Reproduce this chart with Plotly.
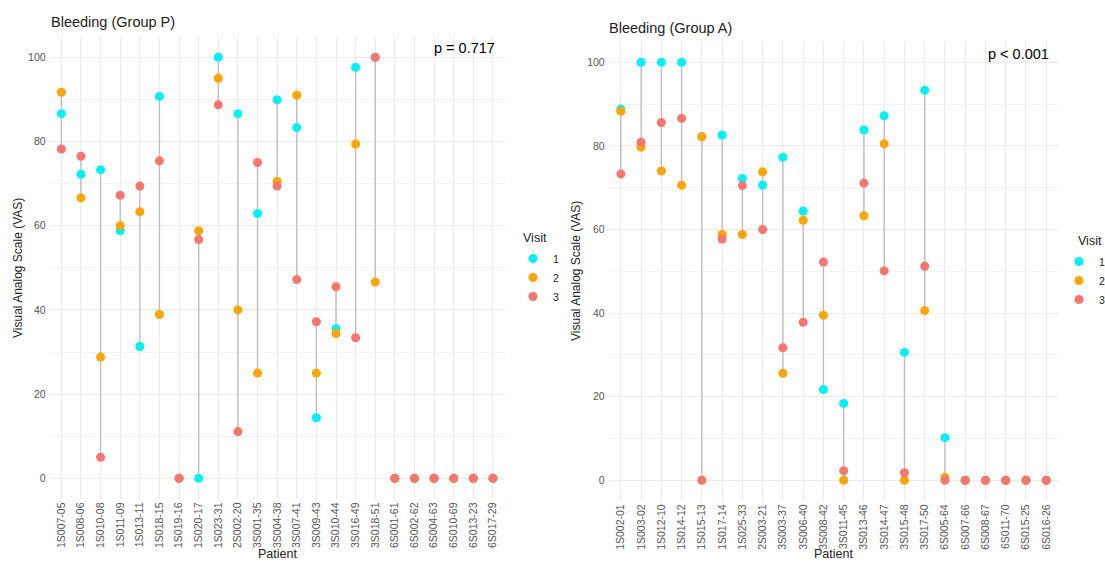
import plotly.graph_objects as go

# ---- Group P ----
patients_p = ["1S007-05", "1S008-06", "1S010-08", "1S011-09", "1S013-11", "1S018-15",
              "1S019-16", "1S020-17", "1S023-31", "2S002-20", "3S001-35", "3S004-38",
              "3S007-41", "3S009-43", "3S010-44", "3S016-49", "3S018-51", "6S001-61",
              "6S002-62", "6S004-63", "6S010-69", "6S013-23", "6S017-29"]
p_visit1 = [86.6, 72.2, 73.3, 58.8, 31.3, 90.7, 0, 0, 100, 86.6, 62.9, 89.9,
            83.3, 14.4, 35.5, 97.6, 100, 0, 0, 0, 0, 0, 0]
p_visit2 = [91.7, 66.6, 28.8, 60.0, 63.3, 38.9, 0, 58.8, 95.0, 40.0, 25.0, 70.5,
            91.0, 25.0, 34.4, 79.4, 46.6, 0, 0, 0, 0, 0, 0]
p_visit3 = [78.2, 76.5, 5.0, 67.2, 69.4, 75.4, 0, 56.7, 88.7, 11.1, 75.0, 69.4,
            47.2, 37.2, 45.5, 33.4, 100, 0, 0, 0, 0, 0, 0]

# ---- Group A ----
patients_a = ["1S002-01", "1S003-02", "1S012-10", "1S014-12", "1S015-13", "1S017-14",
              "1S025-33", "2S003-21", "3S003-37", "3S006-40", "3S008-42", "3S011-45",
              "3S013-46", "3S014-47", "3S015-48", "3S017-50", "6S005-64", "6S007-66",
              "6S008-67", "6S011-70", "6S015-25", "6S016-26"]
a_visit1 = [88.8, 100, 100, 100, 82.2, 82.6, 72.2, 70.6, 77.3, 64.4, 21.7, 18.4,
            83.8, 87.2, 30.6, 93.3, 10.2, 0, 0, 0, 0, 0]
a_visit2 = [88.3, 79.7, 74.0, 70.6, 82.2, 58.8, 58.8, 73.8, 25.6, 62.2, 39.5, 0,
            63.3, 80.5, 0, 40.6, 0.7, 0, 0, 0, 0, 0]
a_visit3 = [73.3, 80.9, 85.6, 86.6, 0, 57.7, 70.5, 60.0, 31.7, 37.8, 52.2, 2.3,
            71.1, 50.1, 1.8, 51.2, 0, 0, 0, 0, 0, 0]

visit_names = ["1", "2", "3"]
visit_colors = ["#00F0F5", "#FFA500", "#F8766D"]

W, H = 1105, 561
FONT = "Liberation Sans, Arial, sans-serif"

fig = go.Figure()


def px_x(v):
    return v / W


def px_y(v):
    return 1 - v / H


def add_panel(patients, visits, xa, ya, legend_name):
    # grey range segment per patient (min to max across visits)
    seg_x, seg_y = [], []
    for i, p in enumerate(patients):
        vals = [v[i] for v in visits]
        lo, hi = min(vals), max(vals)
        if hi > lo:
            seg_x += [p, p, None]
            seg_y += [lo, hi, None]
    fig.add_trace(go.Scatter(x=seg_x, y=seg_y, mode="lines",
                             line=dict(color="#BEBEBE", width=1.4),
                             hoverinfo="skip", showlegend=False,
                             xaxis=xa, yaxis=ya))
    for vals, name, col in zip(visits, visit_names, visit_colors):
        fig.add_trace(go.Scatter(x=patients, y=vals, mode="markers", name=name,
                                 marker=dict(color=col, size=9, line=dict(width=0)),
                                 legend=legend_name, showlegend=True,
                                 xaxis=xa, yaxis=ya))


add_panel(patients_p, [p_visit1, p_visit2, p_visit3], "x", "y", "legend")
add_panel(patients_a, [a_visit1, a_visit2, a_visit3], "x2", "y2", "legend2")

axis_common = dict(showline=False, zeroline=False, ticks="", gridcolor="#EBEBEB",
                   gridwidth=1, tickfont=dict(family=FONT, size=10.5, color="#555555"))

legend_common = dict(xanchor="left", yanchor="top",
                     font=dict(family=FONT, size=10.5, color="#222222"),
                     bgcolor="rgba(0,0,0,0)", tracegroupgap=0)

fig.update_layout(
    width=W, height=H,
    margin=dict(l=0, r=0, t=0, b=0, autoexpand=False),
    paper_bgcolor="white", plot_bgcolor="white",
    font=dict(family=FONT, color="#222222"),
    xaxis=dict(domain=[px_x(49.6), px_x(504.7)], type="category",
               categoryorder="array", categoryarray=patients_p,
               range=[-0.6, len(patients_p) - 0.4], tickangle=-90, anchor="y",
               **axis_common),
    yaxis=dict(domain=[px_y(499.4), px_y(36.2)], range=[-5, 105], dtick=20,
               ticklabelstandoff=3,
               minor=dict(dtick=10, showgrid=True, gridcolor="#F3F3F3", gridwidth=0.6),
               anchor="x", **axis_common),
    xaxis2=dict(domain=[px_x(608.7), px_x(1058.4)], type="category",
                categoryorder="array", categoryarray=patients_a,
                range=[-0.6, len(patients_a) - 0.4], tickangle=-90, anchor="y2",
                **axis_common),
    yaxis2=dict(domain=[px_y(501.2), px_y(41.4)], range=[-5, 105], dtick=20,
                ticklabelstandoff=3,
                minor=dict(dtick=10, showgrid=True, gridcolor="#F3F3F3", gridwidth=0.6),
                anchor="x2", **axis_common),
    legend=dict(x=px_x(513), y=px_y(244), **legend_common),
    legend2=dict(x=px_x(1059), y=px_y(247), **legend_common),
)

annos = [
    dict(text="Bleeding (Group P)", x=px_x(49), y=px_y(22), xanchor="left", yanchor="middle",
         font=dict(size=14.5, color="#222222")),
    dict(text="Bleeding (Group A)", x=px_x(607), y=px_y(28), xanchor="left", yanchor="middle",
         font=dict(size=14.5, color="#222222")),
    dict(text="p = 0.717", x=px_x(497), y=px_y(48), xanchor="right", yanchor="middle",
         font=dict(size=14.5, color="#000000")),
    dict(text="p < 0.001", x=px_x(1051), y=px_y(54), xanchor="right", yanchor="middle",
         font=dict(size=14.5, color="#000000")),
    dict(text="Patient", x=px_x(277), y=px_y(554), xanchor="center", yanchor="middle",
         font=dict(size=12.5, color="#222222")),
    dict(text="Patient", x=px_x(833), y=px_y(554), xanchor="center", yanchor="middle",
         font=dict(size=12.5, color="#222222")),
    dict(text="Visual Analog Scale (VAS)", x=px_x(18), y=px_y(268), textangle=-90,
         xanchor="center", yanchor="middle", font=dict(size=12, color="#222222")),
    dict(text="Visual Analog Scale (VAS)", x=px_x(576), y=px_y(271), textangle=-90,
         xanchor="center", yanchor="middle", font=dict(size=12, color="#222222")),
    # legend headings
    dict(text="Visit", x=px_x(521), y=px_y(238), xanchor="left", yanchor="middle",
         font=dict(size=12.5, color="#222222")),
    dict(text="Visit", x=px_x(1076), y=px_y(241), xanchor="left", yanchor="middle",
         font=dict(size=12.5, color="#222222")),
]
for a in annos:
    fig.add_annotation(xref="paper", yref="paper", showarrow=False,
                       font_family=FONT, **a)

fig.write_html("out.html")
